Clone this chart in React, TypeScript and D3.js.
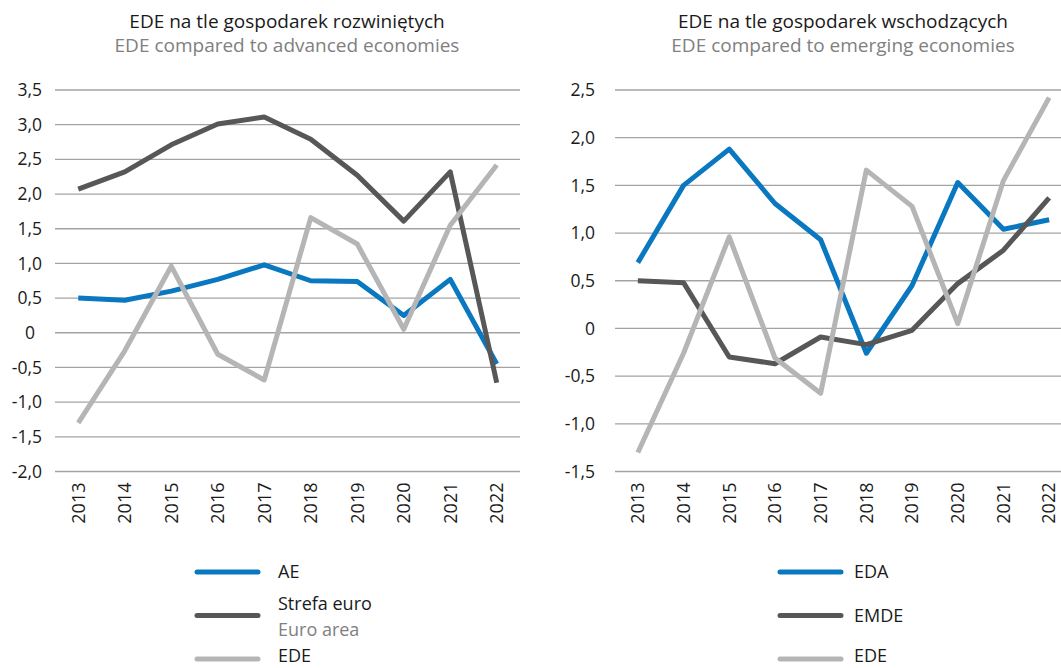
import { useEffect, useRef } from "react";
import * as d3 from "d3";

const years = ["2013", "2014", "2015", "2016", "2017", "2018", "2019", "2020", "2021", "2022"];

// left panel
const aeValues = [0.5, 0.47, 0.6, 0.77, 0.98, 0.75, 0.74, 0.25, 0.77, -0.45];
const euroValues = [2.07, 2.32, 2.71, 3.01, 3.11, 2.79, 2.27, 1.61, 2.32, -0.72];
// right panel
const edaValues = [0.69, 1.5, 1.88, 1.31, 0.93, -0.26, 0.45, 1.53, 1.04, 1.14];
const emdeValues = [0.5, 0.48, -0.3, -0.37, -0.09, -0.17, -0.02, 0.47, 0.82, 1.37];
// both panels
const edeValues = [-1.3, -0.26, 0.96, -0.31, -0.68, 1.66, 1.28, 0.05, 1.55, 2.42];

const leftTicks = [3.5, 3, 2.5, 2, 1.5, 1, 0.5, 0, -0.5, -1, -1.5, -2];
const rightTicks = [2.5, 2, 1.5, 1, 0.5, 0, -0.5, -1, -1.5];

const BLUE = "#0a78c1";
const DARK = "#575757";
const LIGHT = "#b5b5b5";
const FONT = "'Open Sans', sans-serif";

const fmt = (v: number) => (v === 0 ? "0" : v.toFixed(1).replace(".", ","));

const App = () => {
  const svgRef = useRef<SVGSVGElement>(null);

  useEffect(() => {
    if (!svgRef.current) return;
    const svg = d3.select(svgRef.current);
    svg.selectAll("*").remove();

    const panels = [
      {
        title: "EDE na tle gospodarek rozwiniętych",
        subtitle: "EDE compared to advanced economies",
        cx: 287,
        x0: 55,
        x1: 520,
        domain: [-2, 3.5],
        ticks: leftTicks,
        labelEnd: 42,
        zeroEnd: 35,
        series: [
          { values: aeValues, color: BLUE },
          { values: euroValues, color: DARK },
          { values: edeValues, color: LIGHT },
        ],
        legendX: 197,
        textX: 278,
        legend: [
          { label: "AE", sub: "", color: BLUE },
          { label: "Strefa euro", sub: "Euro area", color: DARK },
          { label: "EDE", sub: "", color: LIGHT },
        ],
      },
      {
        title: "EDE na tle gospodarek wschodzących",
        subtitle: "EDE compared to emerging economies",
        cx: 843,
        x0: 615,
        x1: 1072,
        domain: [-1.5, 2.5],
        ticks: rightTicks,
        labelEnd: 595,
        zeroEnd: 595,
        series: [
          { values: edaValues, color: BLUE },
          { values: emdeValues, color: DARK },
          { values: edeValues, color: LIGHT },
        ],
        legendX: 780,
        textX: 854,
        legend: [
          { label: "EDA", sub: "", color: BLUE },
          { label: "EMDE", sub: "", color: DARK },
          { label: "EDE", sub: "", color: LIGHT },
        ],
      },
    ];

    const top = 90;
    const bottom = 471.5;

    panels.forEach((p) => {
      const g = svg.append("g");

      g.append("text")
        .attr("x", p.cx)
        .attr("y", 28)
        .attr("text-anchor", "middle")
        .attr("font-size", "19px")
        .attr("fill", "#1a1a1a")
        .text(p.title);
      g.append("text")
        .attr("x", p.cx)
        .attr("y", 52)
        .attr("text-anchor", "middle")
        .attr("font-size", "19px")
        .attr("fill", "#808080")
        .text(p.subtitle);

      const x = d3.scaleBand().domain(years).range([p.x0, p.x1]);
      const y = d3.scaleLinear().domain(p.domain).range([bottom, top]);

      // gridlines
      g.selectAll("line.grid")
        .data(p.ticks)
        .join("line")
        .attr("class", "grid")
        .attr("x1", p.x0)
        .attr("x2", p.x1)
        .attr("y1", (d) => y(d))
        .attr("y2", (d) => y(d))
        .attr("stroke", "#a3a3a3")
        .attr("stroke-width", 1.3);

      // y labels
      g.selectAll("text.ylab")
        .data(p.ticks)
        .join("text")
        .attr("class", "ylab")
        .attr("x", (d) => (d === 0 ? p.zeroEnd : p.labelEnd))
        .attr("y", (d) => y(d))
        .attr("dy", "0.35em")
        .attr("text-anchor", "end")
        .attr("font-size", "17.5px")
        .attr("fill", "#1a1a1a")
        .text((d) => fmt(d));

      // x labels (rotated)
      g.selectAll("text.xlab")
        .data(years)
        .join("text")
        .attr("class", "xlab")
        .attr("transform", (d) => `translate(${x(d)! + x.bandwidth() / 2},${bottom + 11}) rotate(-90)`)
        .attr("dy", "0.35em")
        .attr("text-anchor", "end")
        .attr("font-size", "18px")
        .attr("fill", "#1a1a1a")
        .text((d) => d);

      const line = d3
        .line<number>()
        .x((_, i) => x(years[i])! + x.bandwidth() / 2)
        .y((d) => y(d));

      p.series.forEach((s) => {
        g.append("path")
          .datum(s.values)
          .attr("d", line)
          .attr("fill", "none")
          .attr("stroke", s.color)
          .attr("stroke-width", 5)
          .attr("stroke-linejoin", "round")
          .attr("stroke-linecap", "butt");
      });

      // legend
      p.legend.forEach((l, i) => {
        const ly = 572 + i * 43.5;
        g.append("line")
          .attr("x1", p.legendX)
          .attr("x2", p.legendX + 61)
          .attr("y1", ly)
          .attr("y2", ly)
          .attr("stroke", l.color)
          .attr("stroke-width", 5)
          .attr("stroke-linecap", "round");
        const last = i === p.legend.length - 1;
        g.append("text")
          .attr("x", p.textX)
          .attr("y", l.sub ? ly - 6 : last ? ly + 3 : ly + 6)
          .attr("font-size", "18px")
          .attr("fill", "#1a1a1a")
          .text(l.label);
        if (l.sub) {
          g.append("text")
            .attr("x", p.textX)
            .attr("y", ly + 20)
            .attr("font-size", "18px")
            .attr("fill", "#808080")
            .text(l.sub);
        }
      });
    });
  }, []);

  return (
    <svg
      ref={svgRef}
      width={1061}
      height={668}
      style={{ position: "absolute", left: 0, top: 0, fontFamily: FONT, background: "#fff" }}
    />
  );
};

export default App;
